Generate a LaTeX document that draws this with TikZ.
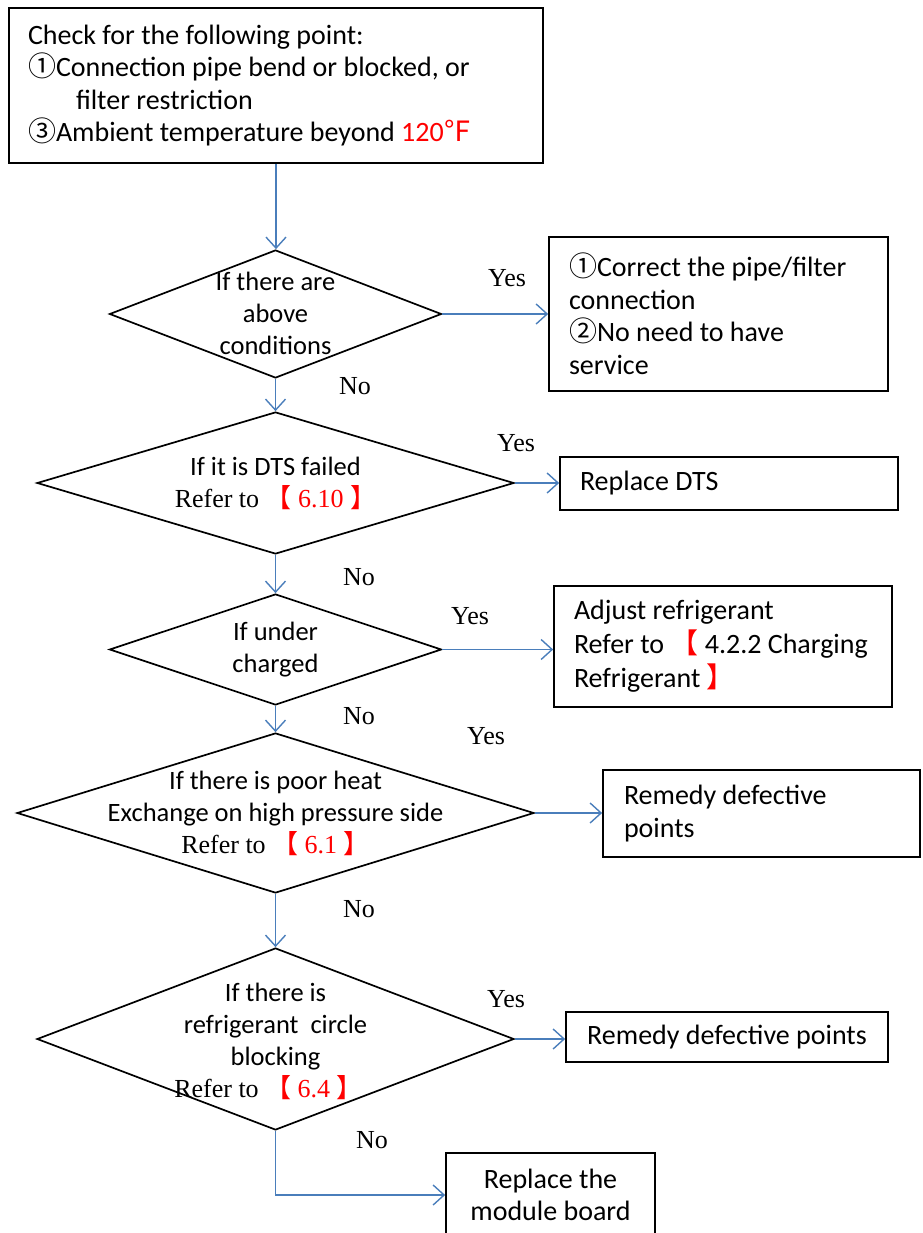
\documentclass[tikz,border=0pt]{standalone}
\usepackage{fontspec}
\setmainfont{Carlito}
\newfontfamily\tnr{Liberation Serif}
\newfontfamily\cjk{Noto Sans CJK SC}
\usetikzlibrary{shapes.geometric,arrows.meta}
\definecolor{arrowblue}{RGB}{74,126,187}
\definecolor{refred}{RGB}{255,0,0}
\newcommand{\cn}[1]{{\cjk #1}}
\newcommand{\rfto}[1]{{\tnr\fontsize{26}{32}\selectfont Refer to \textcolor{refred}{{\cjk 【} #1 {\cjk 】}}}}
\tikzset{
  box/.style={draw, line width=1.7pt, inner sep=0pt, font=\fontsize{28}{32.5}\selectfont},
  dia/.style={diamond, draw, line width=1.7pt, inner sep=0pt},
  diatext/.style={inner sep=0pt, align=center, font=\fontsize{26.5}{32}\selectfont},
  lbl/.style={inner sep=0pt, font=\tnr\fontsize{26}{32}\selectfont},
  flow/.style={draw=arrowblue, line width=1.4pt, -{Straight Barb[length=11pt,width=20pt]}}
}
\begin{document}
\begin{tikzpicture}[x=1pt,y=-1pt]
\useasboundingbox (0,0) rectangle (922,1233);

% top box
\node[box, minimum width=534, minimum height=155, text width=496, align=flush left] (top) at (276,85.5)
 {Check for the following point:\\
  \mbox{\cn{①}Connection pipe bend or blocked, or}\\
  \hspace*{48pt}filter restriction\\
  \mbox{\cn{③}Ambient temperature beyond \textcolor{refred}{120\cn{℉}}}};

% diamonds
\node[dia, minimum width=332, minimum height=128] (d1) at (275.5,314) {};
\node[diatext] (t1) at ([yshift=1]d1.center) {If there are\\above\\conditions};

\node[dia, minimum width=477, minimum height=142] (d2) at (275.5,483) {};
\node[diatext] (t2) at (d2.center) {If it is DTS failed\\\rfto{6.10}};

\node[dia, minimum width=332, minimum height=111] (d3) at (275.5,649.5) {};
\node[diatext] (t3) at (d3.center) {If under\\charged};

\node[dia, minimum width=517, minimum height=160] (d4) at (275.5,813) {};
\node[diatext] (t4) at (d4.center) {If there is poor heat\\Exchange on high pressure side\\\rfto{6.1}};

\node[dia, minimum width=477, minimum height=182] (d5) at (275.5,1039) {};
\node[diatext] (t5) at ([yshift=-2]d5.center) {If there is\\refrigerant\ \ circle\\blocking\\\hspace*{-14pt}\rfto{6.4}};

% result boxes
\node[box, minimum width=339, minimum height=154, text width=299, align=flush left] (b2) at (718.5,314)
 {\mbox{\cn{①}Correct the pipe/filter}\\connection\\\cn{②}No need to have\\service};
\node[box, minimum width=338, minimum height=53, text width=298, align=flush left] (b3) at (729,483.5)
 {Replace DTS};
\node[box, minimum width=338, minimum height=121, text width=298, align=flush left,
      font=\fontsize{28}{34}\selectfont] (b4) at (723,646.5)
 {Adjust refrigerant\\\mbox{Refer to \textcolor{refred}{\cn{【}} 4.2.2 Charging}\\Refrigerant \textcolor{refred}{\cn{】}}};
\node[box, minimum width=317, minimum height=87, text width=275, align=flush left] (b5) at (761.5,813.5)
 {Remedy defective\\points};
\node[box, minimum width=322, minimum height=50, align=center] (b6) at (727,1037)
 {Remedy defective points};
\node[box, minimum width=209, minimum height=84, align=center] (b7) at (550.5,1195)
 {Replace the\\module board};

% connectors
\draw[flow] (top.south) -- (top.south |- d1.north);
\draw[flow] (d1.east) -- (d1.east -| b2.west);
\draw[flow] (d1.south) -- (d2.north);
\draw[flow] (d2.east) -- (d2.east -| b3.west);
\draw[flow] (d2.south) -- (d3.north);
\draw[flow] (d3.east) -- (d3.east -| b4.west);
\draw[flow] (d3.south) -- (d4.north);
\draw[flow] (d4.east) -- (d4.east -| b5.west);
\draw[flow] (d4.south) -- (d5.north);
\draw[flow] (d5.east) -- (d5.east -| b6.west);
\draw[flow] (d5.south) |- (b7.west);

% labels
\node[lbl] (y1) at (507,278) {Yes};
\node[lbl] (n1) at (355,386) {No};
\node[lbl] (y2) at (516,443) {Yes};
\node[lbl] (n2) at (359,577) {No};
\node[lbl] (y3) at (470,616) {Yes};
\node[lbl] (n3) at (359,716) {No};
\node[lbl] (y4) at (486,736) {Yes};
\node[lbl] (n4) at (359,909) {No};
\node[lbl] (y5) at (506,999) {Yes};
\node[lbl] (n5) at (372,1140) {No};
\end{tikzpicture}
\end{document}
